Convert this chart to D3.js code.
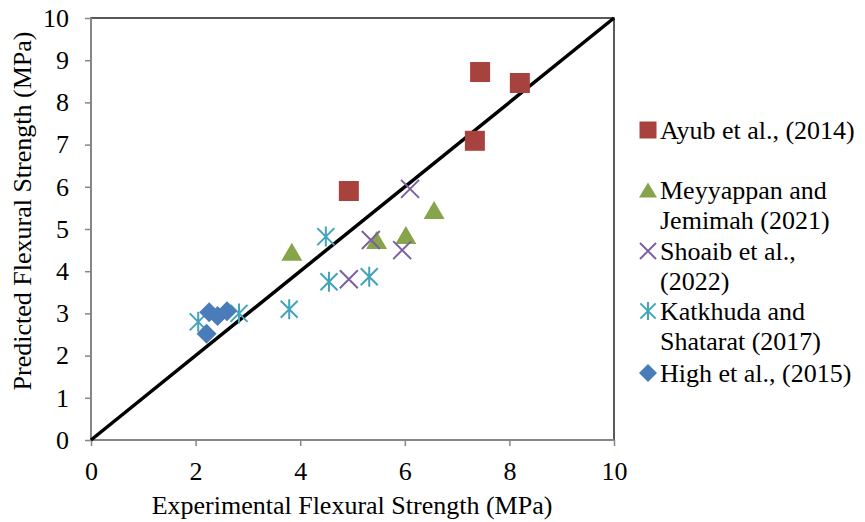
<!DOCTYPE html>
<html><head><meta charset="utf-8">
<script src="https://cdn.jsdelivr.net/npm/d3@7"></script>
<style>body{margin:0;background:#fff}svg{display:block}text{font-family:"Liberation Serif","Times New Roman",serif;fill:#000}</style>
</head><body><div id="chart"></div>
<script>
const xTicks=[0,2,4,6,8,10];
const yTicks=[0,1,2,3,4,5,6,7,8,9,10];
const seriesNames=["Ayub et al., (2014)","Meyyappan and Jemimah (2021)","Shoaib et al., (2022)","Katkhuda and Shatarat (2017)","High et al., (2015)"];
const legendLines=[["Ayub et al., (2014)"],["Meyyappan and","Jemimah (2021)"],["Shoaib et al.,","(2022)"],["Katkhuda and","Shatarat (2017)"],["High et al., (2015)"]];
const ayubX=[4.93,7.44,8.20,7.34];
const ayubY=[5.90,8.72,8.46,7.09];
const meyX=[3.84,5.46,6.02,6.56];
const meyY=[4.46,4.74,4.86,5.45];
const shoX=[6.10,5.35,5.95,4.93];
const shoY=[5.95,4.74,4.50,3.81];
const katX=[4.49,4.55,5.32,3.79,2.83,2.05];
const katY=[4.82,3.75,3.87,3.10,3.00,2.80];
const higX=[2.26,2.42,2.60,2.21];
const higY=[3.03,2.94,3.05,2.52];
const lineX=[0,10], lineY=[0,10];

const W=865,H=522,FS=26;
const svg=d3.select("#chart").append("svg").attr("width",W).attr("height",H);
const x=d3.scaleLinear().domain([0,10]).range([91,614]);
const y=d3.scaleLinear().domain([0,10]).range([440,18]);

// plot border
svg.append("rect").attr("x",91).attr("y",18).attr("width",523).attr("height",422).attr("fill","none").attr("stroke","#000").attr("stroke-width",1.3);

const gx=svg.append("g").attr("transform","translate(0,440)").call(d3.axisBottom(x).tickValues(xTicks).tickSize(6).tickPadding(16).tickFormat(d3.format("d")));
const gy=svg.append("g").attr("transform","translate(91,0)").call(d3.axisLeft(y).tickValues(yTicks).tickSize(6).tickPadding(16).tickFormat(d3.format("d")));
[gx,gy].forEach(g=>{g.attr("font-family",null).attr("font-size",null);
 g.select(".domain").attr("stroke","#868686").attr("stroke-width",2);
 g.selectAll(".tick line").attr("stroke","#868686").attr("stroke-width",1.5);
 g.selectAll(".tick text").attr("font-size",FS).attr("fill","#000");});
gy.select(".domain").attr("d","M0,440V18");
gx.select(".domain").attr("d","M91,0H614");

svg.append("text").attr("x",352).attr("y",514).attr("text-anchor","middle").attr("font-size",FS).text("Experimental Flexural Strength (MPa)");
svg.append("text").attr("transform","translate(31,211) rotate(-90)").attr("text-anchor","middle").attr("font-size",FS).text("Predicted Flexural Strength (MPa)");

// diagonal
svg.append("line").attr("x1",x(lineX[0])).attr("y1",y(lineY[0])).attr("x2",x(lineX[1])).attr("y2",y(lineY[1])).attr("stroke","#000").attr("stroke-width",3.5);

const colors=["#A8423F","#86A44A","#7E60A0","#41A3BC","#4A7CB9"];
function xmark(g,cx,cy,r,c){g.append("path").attr("d",`M${cx-r},${cy-r}L${cx+r},${cy+r}M${cx-r},${cy+r}L${cx+r},${cy-r}`).attr("stroke",c).attr("stroke-width",2).attr("fill","none");}
function star(g,cx,cy,r,c){const a=r*0.85;g.append("path").attr("d",`M${cx},${cy-r}L${cx},${cy+r}M${cx-a},${cy-a}L${cx+a},${cy+a}M${cx-a},${cy+a}L${cx+a},${cy-a}`).attr("stroke",c).attr("stroke-width",2).attr("fill","none");}
function drawSym(g,i,cx,cy,big){
 if(i===0){const s=big?20:17;g.append("rect").attr("x",cx-s/2).attr("y",cy-s/2).attr("width",s).attr("height",s).attr("fill",colors[0]);}
 else if(i===1){const w=big?21:18,h=big?18:15;g.append("path").attr("d",`M${cx},${cy-h/2}L${cx+w/2},${cy+h/2}L${cx-w/2},${cy+h/2}Z`).attr("fill",colors[1]);}
 else if(i===2){xmark(g,cx,cy,big?9:8,colors[2]);}
 else if(i===3){star(g,cx,cy,big?10:9,colors[3]);}
 else {const r=big?10:9;g.append("path").attr("d",`M${cx},${cy-r}L${cx+r},${cy}L${cx},${cy+r}L${cx-r},${cy}Z`).attr("fill",colors[4]);}
}
const data=[[ayubX,ayubY],[meyX,meyY],[shoX,shoY],[katX,katY],[higX,higY]];
data.forEach((d,i)=>{const g=svg.append("g");d[0].forEach((v,j)=>drawSym(g,i,x(v),y(d[1][j]),true));});

// legend
const legY=[[130],[190,220],[251,281],[311,341],[373]];
const lg=svg.append("g");
legendLines.forEach((lines,i)=>{
 drawSym(lg,i,648,legY[i][0],false);
 lines.forEach((t,k)=>lg.append("text").attr("x",660).attr("y",legY[i][k]).attr("dy","0.35em").attr("font-size",FS).text(t));
});
</script></body></html>
